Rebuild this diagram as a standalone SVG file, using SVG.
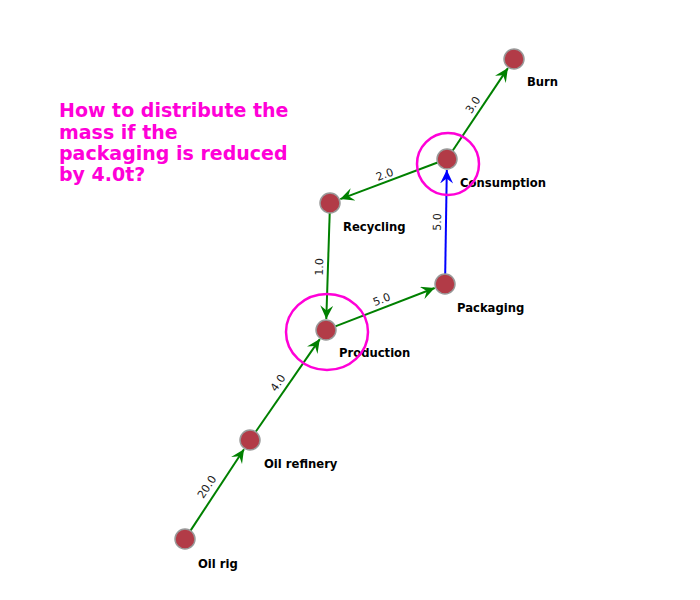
<svg xmlns="http://www.w3.org/2000/svg" width="700" height="600" viewBox="0 0 700 600">
<style>
.edge{fill:none;stroke-width:2}
.g{stroke:#008000}
.b{stroke:#0000ff}
.elab{font-family:"DejaVu Sans",sans-serif;font-size:11px;fill:#222;text-anchor:middle}
.node circle{fill:#b23b47;stroke:#999;stroke-width:1.5}
.node text{font-family:"DejaVu Sans",sans-serif;font-weight:bold;font-size:11.6px;fill:#000}
.hl{fill:none;stroke:#ff00d8;stroke-width:2.5}
.title{font-family:"DejaVu Sans",sans-serif;font-weight:bold;font-size:19px;fill:#ff00d8}
</style>
<defs>
<marker id="ag" markerUnits="userSpaceOnUse" markerWidth="15" markerHeight="14" refX="13.5" refY="6.5" orient="auto">
<path d="M0,0 L13.5,6.5 L0,13 L5,6.5 z" fill="#008000"/>
</marker>
<marker id="ab" markerUnits="userSpaceOnUse" markerWidth="15" markerHeight="14" refX="13.5" refY="6.5" orient="auto">
<path d="M0,0 L13.5,6.5 L0,13 L5,6.5 z" fill="#0000ff"/>
</marker>
</defs>
<rect width="700" height="600" fill="#fff"/>
<g id="connectors">
<line class="edge g" x1="190.5" y1="530.6" x2="244" y2="449.2" marker-end="url(#ag)"/>
<line class="edge g" x1="255.7" y1="431.8" x2="319.8" y2="339.1" marker-end="url(#ag)"/>
<line class="edge g" x1="329.7" y1="213" x2="326.3" y2="319" marker-end="url(#ag)"/>
<line class="edge g" x1="335.3" y1="326.4" x2="434.7" y2="288" marker-end="url(#ag)"/>
<line class="edge b" x1="445.2" y1="274" x2="446.8" y2="170" marker-end="url(#ab)"/>
<line class="edge g" x1="437.6" y1="162.5" x2="340.3" y2="199.1" marker-end="url(#ag)"/>
<line class="edge g" x1="452.6" y1="150.7" x2="507.9" y2="68.1" marker-end="url(#ag)"/>
<text class="elab" transform="translate(210,489) rotate(-56.7)">20.0</text>
<text class="elab" transform="translate(281,385) rotate(-55.4)">4.0</text>
<text class="elab" transform="translate(323,267) rotate(-88)">1.0</text>
<text class="elab" transform="translate(383,303) rotate(-21)">5.0</text>
<text class="elab" transform="translate(441,222) rotate(-89)">5.0</text>
<text class="elab" transform="translate(386,178) rotate(-20.6)">2.0</text>
<text class="elab" transform="translate(476,107) rotate(-56.2)">3.0</text>
</g>
<g id="burn" class="node"><circle cx="514" cy="59" r="10"/><text x="527" y="86">Burn</text></g>
<g id="consumption" class="node"><circle cx="447" cy="159" r="10"/><text x="460" y="187">Consumption</text></g>
<g id="recycling" class="node"><circle cx="330" cy="203" r="10"/><text x="343" y="231">Recycling</text></g>
<g id="packaging" class="node"><circle cx="445" cy="284" r="10"/><text x="457" y="312">Packaging</text></g>
<g id="production" class="node"><circle cx="326" cy="330" r="10"/><text x="339" y="357">Production</text></g>
<g id="oil-refinery" class="node"><circle cx="250" cy="440" r="10"/><text x="264" y="468">Oil refinery</text></g>
<g id="oil-rig" class="node"><circle cx="185" cy="539" r="10"/><text x="198" y="568">Oil rig</text></g>
<g id="highlights">
<circle class="hl" cx="448" cy="164" r="31"/>
<ellipse class="hl" cx="327" cy="332" rx="41" ry="38"/>
</g>
<g id="title">
<text class="title" x="59" y="117">How to distribute the</text>
<text class="title" x="59" y="138.5">mass if the</text>
<text class="title" x="59" y="160">packaging is reduced</text>
<text class="title" x="59" y="181">by 4.0t?</text>
</g>
</svg>
